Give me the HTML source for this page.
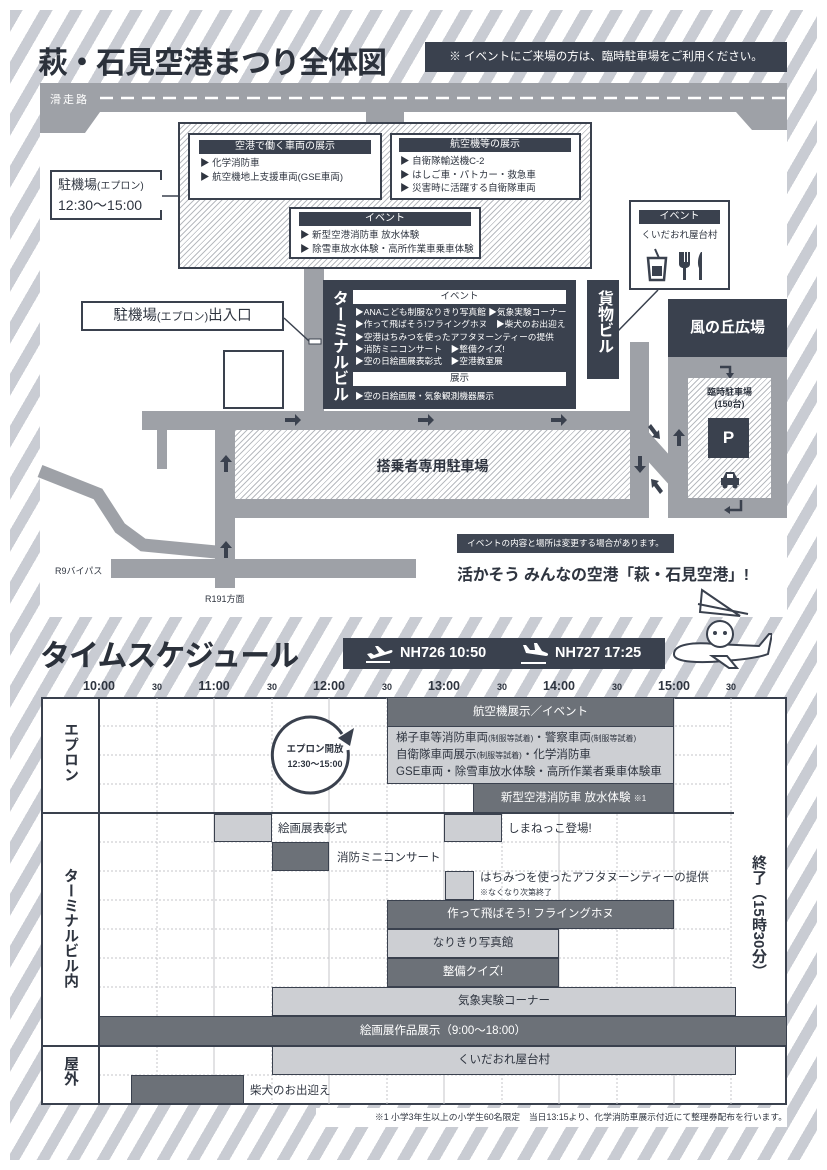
<!DOCTYPE html>
<html><head><meta charset="utf-8">
<style>
*{margin:0;padding:0;box-sizing:border-box}
body{width:827px;height:1170px;position:relative;background:#fff;font-family:"Liberation Sans","Noto Sans CJK JP",sans-serif;color:#2f3540;overflow:hidden}
.a{position:absolute}
.str{left:10px;top:10px;width:807px;height:1150px;background:repeating-linear-gradient(120deg,#c9ccd3 0 11px,#fff 11px 26px)}
.dk{background:#3a414e;color:#fff}
.hatch{background:repeating-linear-gradient(-45deg,#fff 0 3px,#b8bbc0 3px 4px)}
.bx{background:#fff;border:2px solid #3a414e}
.hd{background:#3a414e;color:#fff;font-size:10px;text-align:center;line-height:14px}
.it{font-size:9.5px;line-height:13.5px;white-space:nowrap}
.vt{writing-mode:vertical-rl;font-weight:bold}
.tl{font-size:12.5px;font-weight:bold;top:679px;transform:translateX(-50%)}
.th{font-size:9px;font-weight:bold;top:682px;transform:translateX(-50%)}
.bd{background:#6c7178;color:#fff;border:1px solid #3a414e;font-size:11.5px;text-align:center}
.bl{background:#cdcfd3;border:1px solid #3a414e;font-size:11.5px;text-align:center}
.lb{font-size:11.5px;white-space:nowrap}
</style></head><body>
<div class="a str"></div>

<!-- header -->
<div class="a" style="left:38px;top:38px;font-size:30px;font-weight:bold;letter-spacing:-1px;white-space:nowrap;color:#2b313b">萩・石見空港まつり全体図</div>
<div class="a dk" style="left:425px;top:42px;width:362px;height:30px;font-size:11.5px;line-height:30px;text-align:center">※ イベントにご来場の方は、臨時駐車場をご利用ください。</div>

<!-- map panel -->
<div class="a" style="left:40px;top:83px;width:747px;height:534px;background:#fff"></div>
<svg class="a" style="left:0;top:0" width="827" height="620">
<polygon points="40,83 787,83 787,130 752,130 736,112 100,112 85,133 40,133" fill="#9ea1a7"/>
<rect x="366" y="110" width="38" height="14" fill="#9ea1a7"/>
<line x1="100" y1="98" x2="787" y2="98" stroke="#fff" stroke-width="2.5" stroke-dasharray="13,8"/>
<text x="50" y="103" font-size="11" fill="#fff" font-family="Liberation Sans,Noto Sans CJK JP,sans-serif" letter-spacing="2">滑走路</text>
<rect x="304" y="268" width="20" height="145" fill="#9ea1a7"/>
<rect x="142" y="411" width="507" height="19" fill="#9ea1a7"/>
<rect x="630" y="342" width="19" height="176" fill="#9ea1a7"/>
<rect x="157" y="429" width="10" height="40" fill="#9ea1a7"/>
<rect x="215" y="411" width="20" height="177" fill="#9ea1a7"/>
<rect x="215" y="499" width="434" height="19" fill="#9ea1a7"/>
<rect x="111" y="559" width="305" height="19" fill="#9ea1a7"/>
<polyline points="40,471 98,494 120,528 143,545 216,552" fill="none" stroke="#9ea1a7" stroke-width="13"/>
<polygon points="645,428 672,458 672,488 645,458" fill="#9ea1a7"/>
<rect x="668" y="355" width="119" height="163" fill="#9ea1a7"/>
<line x1="658" y1="290" x2="617" y2="332" stroke="#3a414e" stroke-width="1.5"/>
<line x1="162" y1="196" x2="180" y2="196" stroke="#3a414e" stroke-width="1.5"/>
<line x1="284" y1="318" x2="309" y2="341" stroke="#3a414e" stroke-width="1.5"/>
<g fill="#3a414e">
<path d="M285,418h10v-4l6,6l-6,6v-4h-10z"/>
<path d="M418,418h10v-4l6,6l-6,6v-4h-10z"/>
<path d="M551,418h10v-4l6,6l-6,6v-4h-10z"/>
<path d="M224,472v-10h-4l6,-7l6,7h-4v10z"/>
<path d="M224,558v-10h-4l6,-7l6,7h-4v10z"/>
<path d="M638,456v10h-4l6,7l6,-7h-4v-10z"/>
<path d="M677,446v-10h-4l6,-7l6,7h-4v10z"/>
<path d="M651,424l6,8l2,-2l1,9l-8,-2l2,-2l-6,-8z"/>
<path d="M660,494l-6,-8l-2,2l-1,-9l8,2l-2,2l6,8z"/>
</g>
<path d="M720,367h10v7" fill="none" stroke="#3a414e" stroke-width="2.5"/>
<path d="M726,373l4,6l4,-6z" fill="#3a414e"/>
<path d="M741,500v10h-12" fill="none" stroke="#3a414e" stroke-width="2.5"/>
<path d="M730,506l-6,4l6,4z" fill="#3a414e"/>
<rect x="309" y="339" width="12" height="5" fill="#fff" stroke="#3a414e" stroke-width="1"/>
</svg>

<div class="a hatch" style="left:178px;top:122px;width:414px;height:147px;border:2px solid #3a414e"></div>
<div class="a bx" style="left:188px;top:133px;width:194px;height:67px"></div>
<div class="a hd" style="left:199px;top:140px;width:172px">空港で働く車両の展示</div>
<div class="a it" style="left:200px;top:157px">▶ 化学消防車<br>▶ 航空機地上支援車両(GSE車両)</div>
<div class="a bx" style="left:390px;top:133px;width:191px;height:67px"></div>
<div class="a hd" style="left:399px;top:138px;width:172px">航空機等の展示</div>
<div class="a it" style="left:400px;top:155px">▶ 自衛隊輸送機C-2<br>▶ はしご車・パトカー・救急車<br>▶ 災害時に活躍する自衛隊車両</div>
<div class="a bx" style="left:289px;top:207px;width:192px;height:52px"></div>
<div class="a hd" style="left:299px;top:212px;width:172px">イベント</div>
<div class="a it" style="left:300px;top:229px">▶ 新型空港消防車 放水体験<br>▶ 除雪車放水体験・高所作業車乗車体験</div>

<div class="a" style="left:50px;top:170px;width:112px;height:50px;border:2px solid #3a414e;border-right:none;background:#fff"></div>
<div class="a" style="left:160px;top:170px;width:2px;height:50px;background:linear-gradient(#3a414e 0 10px,transparent 10px 40px,#3a414e 40px)"></div>
<div class="a" style="left:58px;top:175px;font-size:13px;white-space:nowrap;line-height:19px">駐機場<span style="font-size:10px">(エプロン)</span><br><span style="font-size:14px">12:30〜15:00</span></div>

<div class="a bx" style="left:629px;top:200px;width:101px;height:90px"></div>
<div class="a hd" style="left:639px;top:210px;width:81px">イベント</div>
<div class="a" style="left:629px;top:227px;width:101px;text-align:center;font-size:9.5px">くいだおれ屋台村</div>
<svg class="a" style="left:645px;top:248px" width="70" height="34">
<path d="M3,10h18l-2,22h-14z" fill="none" stroke="#3a414e" stroke-width="2.5"/>
<line x1="14" y1="10" x2="10" y2="1" stroke="#3a414e" stroke-width="2"/>
<rect x="7" y="18" width="10" height="10" fill="#3a414e"/>
<path d="M34,4v12c0,3 3,4 4,4v12h3v-12c1,0 4,-1 4,-4v-12h-2v10h-1v-10h-2v10h-1v-10z" fill="#3a414e"/>
<path d="M56,4c-3,4 -4,12 -2,16v12h3v-28z" fill="#3a414e"/>
</svg>

<div class="a" style="left:81px;top:301px;width:203px;height:30px;border:2px solid #3a414e;background:#fff;font-size:14.5px;line-height:26px;text-align:center;white-space:nowrap">駐機場<span style="font-size:11px">(エプロン)</span>出入口</div>
<div class="a" style="left:223px;top:350px;width:61px;height:59px;border:2px solid #3a414e;background:#fff"></div>

<div class="a dk" style="left:323px;top:280px;width:253px;height:129px"></div>
<div class="a vt" style="left:328px;top:290px;color:#fff;font-size:16px;line-height:20px">ターミナルビル</div>
<div class="a" style="left:353px;top:290px;width:213px;height:14px;background:#fff;font-size:9.5px;text-align:center;line-height:14px">イベント</div>
<div class="a it" style="left:355px;top:306px;color:#fff;line-height:12.3px;font-size:8.7px">▶ANAこども制服なりきり写真館 ▶気象実験コーナー<br>▶作って飛ばそう!フライングホヌ　▶柴犬のお出迎え<br>▶空港はちみつを使ったアフタヌーンティーの提供<br>▶消防ミニコンサート　▶整備クイズ!<br>▶空の日絵画展表彰式　▶空港教室展</div>
<div class="a" style="left:353px;top:372px;width:213px;height:14px;background:#fff;font-size:9.5px;text-align:center;line-height:14px">展示</div>
<div class="a it" style="left:355px;top:390px;color:#fff;font-size:8.7px">▶空の日絵画展・気象観測機器展示</div>

<div class="a dk" style="left:587px;top:280px;width:32px;height:99px"></div>
<div class="a vt" style="left:593px;top:290px;color:#fff;font-size:16px;line-height:20px">貨物ビル</div>

<div class="a hatch" style="left:235px;top:430px;width:395px;height:69px"></div>
<div class="a" style="left:235px;top:456px;width:395px;text-align:center;font-size:14px;font-weight:bold">搭乗者専用駐車場</div>

<div class="a dk" style="left:668px;top:299px;width:119px;height:58px;font-size:15px;font-weight:bold;text-align:center;line-height:58px">風の丘広場</div>
<div class="a hatch" style="left:688px;top:378px;width:83px;height:120px"></div>
<div class="a" style="left:688px;top:386px;width:83px;text-align:center;font-size:9px;font-weight:bold;line-height:12px">臨時駐車場<br>(150台)</div>
<div class="a dk" style="left:708px;top:418px;width:41px;height:40px;font-size:17px;font-weight:bold;text-align:center;line-height:40px">P</div>
<svg class="a" style="left:719px;top:471px" width="22" height="18"><path d="M4,7l3,-6h8l3,6h2v7h-18v-7z" fill="#3a414e"/><rect x="8" y="3" width="6" height="4" fill="#fff"/><circle cx="6" cy="15" r="2.5" fill="#3a414e"/><circle cx="16" cy="15" r="2.5" fill="#3a414e"/></svg>

<div class="a" style="left:55px;top:564px;font-size:9px;white-space:nowrap">R9バイパス</div>
<div class="a" style="left:205px;top:592px;font-size:9px;white-space:nowrap">R191方面</div>

<div class="a dk" style="left:457px;top:534px;width:217px;height:19px;font-size:8.6px;line-height:19px;text-align:center;background:#3f4653;white-space:nowrap">イベントの内容と場所は変更する場合があります。</div>
<div class="a" style="left:457px;top:561px;font-size:16px;font-weight:bold;white-space:nowrap;letter-spacing:-0.3px">活かそう みんなの空港「萩・石見空港」!</div>

<svg class="a" style="left:672px;top:582px" width="100" height="92">
<g fill="#fff" stroke="#3a414e" stroke-width="2">
<path d="M30,8l38,26l-40,-4z"/>
<line x1="26" y1="22" x2="76" y2="32"/>
<path d="M2,72c0,-10 20,-12 40,-10l45,2l10,-12l3,0l-4,20c-10,4 -30,6 -45,7c-20,2 -50,2 -49,-7z"/>
<path d="M40,74l15,0l10,12l-8,0z"/>
<circle cx="48" cy="52" r="13"/>
</g>
<circle cx="43" cy="51" r="2" fill="#3a414e"/><circle cx="53" cy="51" r="2" fill="#3a414e"/>
</svg>

<div class="a" style="left:40px;top:631px;font-size:30px;font-weight:bold;letter-spacing:-1px;white-space:nowrap;color:#2b313b">タイムスケジュール</div>
<div class="a dk" style="left:343px;top:638px;width:322px;height:31px"></div>
<svg class="a" style="left:365px;top:644px" width="28" height="20"><path d="M2,10l4,-1l3,2l5,-2l-4,-7l3,0l7,6l6,-2c2,0 2,2 0,3l-20,6z" fill="#fff"/><rect x="1" y="17" width="24" height="2" fill="#fff"/></svg>
<div class="a" style="left:400px;top:645px;color:#fff;font-size:14.5px;font-weight:bold;white-space:nowrap">NH726 10:50</div>
<svg class="a" style="left:520px;top:643px" width="28" height="22"><path d="M3,2l3,0l4,5l5,0l-1,-7l3,0l5,8l5,2c2,1 1,3 -1,3l-20,-3z" fill="#fff"/><rect x="1" y="19" width="25" height="2" fill="#fff"/></svg>
<div class="a" style="left:555px;top:645px;color:#fff;font-size:14.5px;font-weight:bold;white-space:nowrap">NH727 17:25</div>

<div class="a tl" style="left:99px">10:00</div><div class="a th" style="left:157px">30</div>
<div class="a tl" style="left:214px">11:00</div><div class="a th" style="left:272px">30</div>
<div class="a tl" style="left:329px">12:00</div><div class="a th" style="left:387px">30</div>
<div class="a tl" style="left:444px">13:00</div><div class="a th" style="left:502px">30</div>
<div class="a tl" style="left:559px">14:00</div><div class="a th" style="left:617px">30</div>
<div class="a tl" style="left:674px">15:00</div><div class="a th" style="left:731px">30</div>

<div class="a" style="left:41px;top:697px;width:746px;height:408px;background:#fff;border:2px solid #3a414e"></div>
<svg class="a" style="left:0;top:0" width="827" height="1170">
<g stroke="#c4c6ca" stroke-width="1">
<line x1="214" y1="698" x2="214" y2="1104"/><line x1="329" y1="698" x2="329" y2="1104"/><line x1="444" y1="698" x2="444" y2="1104"/><line x1="559" y1="698" x2="559" y2="1104"/><line x1="674" y1="698" x2="674" y2="1104"/>
</g>
<g stroke="#c4c6ca" stroke-width="1" stroke-dasharray="2,2">
<line x1="157" y1="698" x2="157" y2="1104"/><line x1="272" y1="698" x2="272" y2="1104"/><line x1="387" y1="698" x2="387" y2="1104"/><line x1="502" y1="698" x2="502" y2="1104"/><line x1="617" y1="698" x2="617" y2="1104"/><line x1="731" y1="698" x2="731" y2="1104"/>
<line x1="99" y1="726" x2="731" y2="726"/><line x1="99" y1="755" x2="731" y2="755"/><line x1="99" y1="784" x2="731" y2="784"/>
<line x1="99" y1="842" x2="731" y2="842"/><line x1="99" y1="871" x2="731" y2="871"/><line x1="99" y1="900" x2="731" y2="900"/><line x1="99" y1="929" x2="731" y2="929"/><line x1="99" y1="958" x2="731" y2="958"/><line x1="99" y1="987" x2="731" y2="987"/>
<line x1="99" y1="1075" x2="731" y2="1075"/>
</g>
<g stroke="#3a414e" stroke-width="2">
<line x1="99" y1="698" x2="99" y2="1104"/>
<line x1="42" y1="813" x2="734" y2="813"/>
<line x1="42" y1="1046" x2="786" y2="1046"/>
</g>
</svg>
<div class="a vt" style="left:60px;top:722px;font-size:15px">エプロン</div>
<div class="a vt" style="left:60px;top:868px;font-size:15px">ターミナルビル内</div>
<div class="a vt" style="left:60px;top:1056px;font-size:15px">屋外</div>

<svg class="a" style="left:270px;top:712px" width="100" height="90">
<path d="M72,22 A38,38 0 1,0 78,38" fill="#fff" stroke="#3a414e" stroke-width="3"/>
<path d="M68,26l16,-10l-4,18z" fill="#3a414e"/>
</svg>
<div class="a" style="left:275px;top:742px;width:80px;text-align:center;font-size:9.5px;font-weight:bold;line-height:15px">エプロン開放<br><span style="font-size:9px">12:30〜15:00</span></div>

<div class="a bd" style="left:387px;top:697px;width:287px;height:30px;line-height:28px">航空機展示／イベント</div>
<div class="a bl" style="left:387px;top:726px;width:287px;height:58px;text-align:left;padding:3px 0 0 8px;line-height:16px;font-size:11.5px;white-space:nowrap">梯子車等消防車両<span style="font-size:8px">(制服等試着)</span>・警察車両<span style="font-size:8px">(制服等試着)</span><br>自衛隊車両展示<span style="font-size:8px">(制服等試着)</span>・化学消防車<br>GSE車両・除雪車放水体験・高所作業者乗車体験車</div>
<div class="a bd" style="left:473px;top:783px;width:201px;height:30px;line-height:28px">新型空港消防車 放水体験 <span style="font-size:8px">※1</span></div>

<div class="a bl" style="left:214px;top:814px;width:58px;height:28px"></div>
<div class="a lb" style="left:278px;top:820px">絵画展表彰式</div>
<div class="a bl" style="left:444px;top:814px;width:58px;height:28px"></div>
<div class="a lb" style="left:508px;top:820px">しまねっこ登場!</div>
<div class="a bd" style="left:272px;top:842px;width:57px;height:29px"></div>
<div class="a lb" style="left:337px;top:849px">消防ミニコンサート</div>
<div class="a bl" style="left:445px;top:871px;width:29px;height:29px"></div>
<div class="a lb" style="left:480px;top:871px;line-height:14px">はちみつを使ったアフタヌーンティーの提供<br><span style="font-size:8px">※なくなり次第終了</span></div>
<div class="a bd" style="left:387px;top:900px;width:287px;height:29px;line-height:27px">作って飛ばそう! フライングホヌ</div>
<div class="a bl" style="left:387px;top:929px;width:172px;height:29px;line-height:27px">なりきり写真館</div>
<div class="a bd" style="left:387px;top:958px;width:172px;height:29px;line-height:27px">整備クイズ!</div>
<div class="a bl" style="left:272px;top:987px;width:464px;height:29px;line-height:27px">気象実験コーナー</div>
<div class="a bd" style="left:99px;top:1016px;width:688px;height:30px;line-height:28px">絵画展作品展示（9:00〜18:00）</div>
<div class="a bl" style="left:272px;top:1046px;width:464px;height:29px;line-height:27px">くいだおれ屋台村</div>
<div class="a bd" style="left:131px;top:1075px;width:113px;height:29px"></div>
<div class="a lb" style="left:250px;top:1082px">柴犬のお出迎え</div>
<div class="a vt" style="left:748px;top:855px;font-size:15px;line-height:20px">終了（15時30分）</div>

<div class="a" style="left:316px;top:1108px;width:471px;height:19px;background:#fff;font-size:8.8px;line-height:19px;text-align:right;white-space:nowrap">※1 小学3年生以上の小学生60名限定　当日13:15より、化学消防車展示付近にて整理券配布を行います。</div>
</body></html>
